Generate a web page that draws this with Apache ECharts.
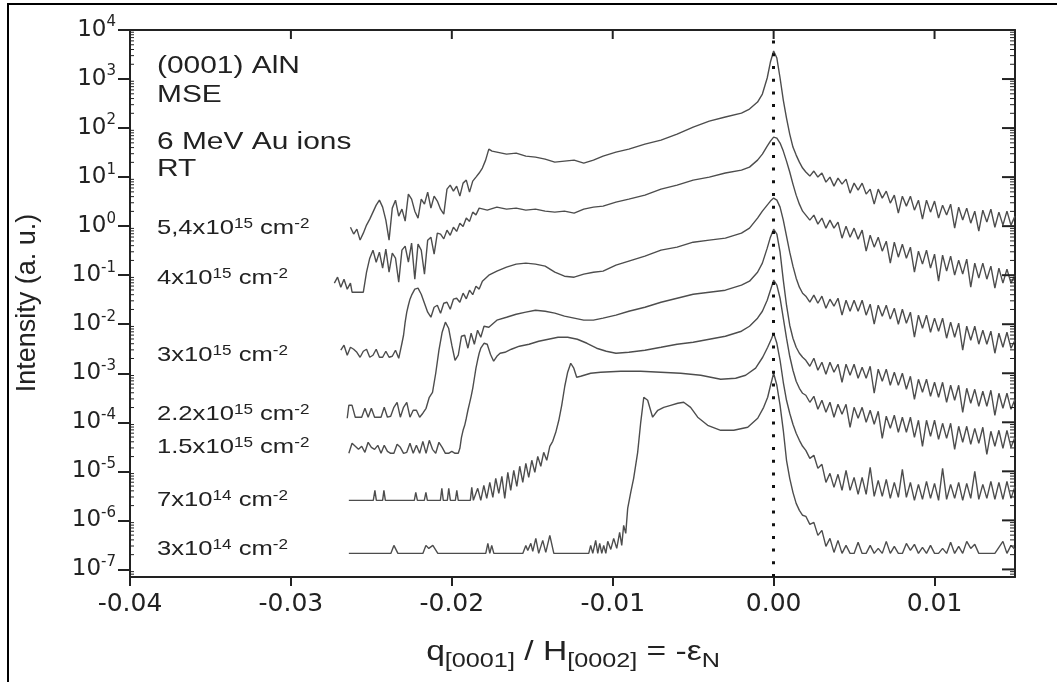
<!DOCTYPE html>
<html>
<head>
<meta charset="utf-8">
<title>(0001) AlN MSE profiles</title>
<script src="https://cdn.jsdelivr.net/npm/echarts@6.0.0/dist/echarts.min.js"></script>
<style>
  html, body { margin: 0; padding: 0; background: #fff; }
  #chart { width: 1057px; height: 682px; }
</style>
</head>
<body>
<div id="chart"></div>
<script>
// shared x positions of the noisy tails right of the (0002) peak
var tailX = [0.002, 0.00225, 0.0025, 0.00275, 0.003, 0.00325, 0.0035, 0.00375, 0.004, 0.00425,
  0.0045, 0.00475, 0.005, 0.00525, 0.0055, 0.00575, 0.006, 0.00625, 0.0065, 0.00675,
  0.007, 0.00725, 0.0075, 0.00775, 0.008, 0.00825, 0.0085, 0.00875, 0.009, 0.00925,
  0.0095, 0.00975, 0.01, 0.01025, 0.0105, 0.01075, 0.011, 0.01125, 0.0115, 0.01175,
  0.012, 0.01225, 0.0125, 0.01275, 0.013, 0.01325, 0.0135, 0.01375, 0.014, 0.01425,
  0.0145, 0.01475, 0.015];

// 5,4e15 cm-2
var d54Body = [[-0.0263, 0.95], [-0.0261, 0.69], [-0.0259, 0.87], [-0.0257, 0.52], [-0.0255, 0.72],
  [-0.0253, 1.05], [-0.0251, 1.39], [-0.0249, 1.93], [-0.0247, 2.68], [-0.0245, 3.39], [-0.0243, 2.44],
  [-0.0241, 1.33], [-0.0239, 0.52], [-0.0237, 2.33], [-0.0235, 3.39], [-0.0233, 1.6], [-0.0231, 2.22],
  [-0.0229, 1.27], [-0.0227, 4.5], [-0.0225, 3.56], [-0.0223, 2.02], [-0.0221, 1.46], [-0.0219, 3.56],
  [-0.0217, 2.81], [-0.0215, 4.94], [-0.0213, 2.33], [-0.0211, 4.09], [-0.0209, 3.24], [-0.0207, 2.22],
  [-0.0205, 1.76], [-0.0203, 5.69], [-0.0201, 6.87], [-0.0199, 5.18], [-0.0197, 6.55], [-0.0195, 4.09],
  [-0.0193, 7.54], [-0.0191, 8.69], [-0.0189, 4.94], [-0.0187, 8.29], [-0.0185, 10], [-0.0183, 12.1],
  [-0.0181, 15.3], [-0.0179, 22.2], [-0.0177, 37.3], [-0.0175, 33.9], [-0.0172, 32.4], [-0.0166, 29.5],
  [-0.016, 30.9], [-0.0154, 26.8], [-0.0148, 25.6], [-0.0142, 23.3], [-0.0136, 20.2], [-0.013, 21.2],
  [-0.0124, 22.2], [-0.0118, 19.3], [-0.0112, 22.2], [-0.0106, 26.8], [-0.0098, 32.4], [-0.009, 37.3],
  [-0.008, 47.1], [-0.007, 56.9], [-0.006, 75.4], [-0.005, 105], [-0.004, 139], [-0.003, 168],
  [-0.002, 202], [-0.0015, 244], [-0.001, 339], [-0.0007, 494], [-0.0004, 1050], [-0.0002, 2220],
  [0, 3730], [0.0002, 2680], [0.0004, 1050], [0.0006, 373], [0.0008, 160], [0.001, 75.4],
  [0.0012, 40.9], [0.0014, 28.1], [0.0016, 20.2], [0.0018, 15.3]];
var d54Tail = [12.7, 10.5, 13.3, 10, 12.1, 7.91, 10, 6.55, 9.54, 7.2, 9.1, 4.71, 7.54, 5.43, 7.54, 4.5,
  5.69, 2.81, 5.69, 3.73, 5.18, 2.95, 4.29, 1.84, 4.09, 2.56, 4.09, 2.12, 3.39, 1.39, 3.39, 1.93, 3.24,
  1.46, 2.68, 1.68, 2.81, 0.91, 2.44, 1.33, 2.33, 1.15, 2.02, 0.79, 2.12, 1.21, 2.22, 0.95, 1.93, 1.05,
  2.02, 1.05, 1.6];

// 4e15 cm-2
var d40Body = [[-0.0273, 0.0687], [-0.0271, 0.091], [-0.0269, 0.0569], [-0.0267, 0.0829], [-0.0265, 0.0518],
  [-0.0263, 0.0687], [-0.0262, 0.045], [-0.0255, 0.045], [-0.0253, 0.115], [-0.0251, 0.222],
  [-0.0249, 0.324], [-0.0247, 0.184], [-0.0245, 0.295], [-0.0243, 0.139], [-0.0241, 0.339],
  [-0.0239, 0.115], [-0.0237, 0.281], [-0.0235, 0.222], [-0.0233, 0.072], [-0.0231, 0.324],
  [-0.0229, 0.391], [-0.0227, 0.184], [-0.0225, 0.45], [-0.0223, 0.0829], [-0.0221, 0.429],
  [-0.0219, 0.324], [-0.0217, 0.105], [-0.0215, 0.518], [-0.0213, 0.596], [-0.0211, 0.268],
  [-0.0209, 0.72], [-0.0207, 0.687], [-0.0205, 0.55], [-0.0203, 0.829], [-0.0201, 0.65],
  [-0.0199, 0.954], [-0.0197, 0.78], [-0.0195, 1.15], [-0.0193, 0.98], [-0.0191, 1.46],
  [-0.0189, 1.25], [-0.0187, 1.93], [-0.0185, 1.7], [-0.0183, 2.33], [-0.0178, 2.12], [-0.0172, 2.44],
  [-0.0166, 2.22], [-0.016, 2.33], [-0.0154, 2.12], [-0.0148, 2.22], [-0.0142, 2.02], [-0.0136, 1.93],
  [-0.013, 2.02], [-0.0124, 1.84], [-0.0118, 2.22], [-0.0112, 2.44], [-0.0106, 2.56], [-0.0098, 3.09],
  [-0.009, 3.56], [-0.008, 4.29], [-0.007, 5.69], [-0.006, 6.87], [-0.005, 8.69], [-0.004, 10],
  [-0.003, 12.1], [-0.002, 13.9], [-0.0015, 16], [-0.001, 22.2], [-0.0007, 29.5], [-0.0004, 42.9],
  [-0.0002, 54.3], [0, 65.5], [0.0002, 62.5], [0.0004, 49.4], [0.0006, 33.9], [0.0008, 21.2],
  [0.001, 12.7], [0.0012, 7.2], [0.0014, 4.29], [0.0016, 2.81], [0.0018, 2.02]];
var d40Tail = [1.68, 1.33, 1.68, 1.1, 1.46, 0.91, 1.33, 0.91, 1.21, 0.569, 1.0, 0.596, 0.91, 0.543, 0.829,
  0.309, 0.655, 0.373, 0.596, 0.309, 0.494, 0.176, 0.471, 0.233, 0.429, 0.222, 0.373, 0.115, 0.309,
  0.168, 0.324, 0.139, 0.268, 0.0754, 0.256, 0.121, 0.244, 0.1, 0.202, 0.105, 0.212, 0.0569, 0.176,
  0.0869, 0.176, 0.0829, 0.153, 0.0543, 0.139, 0.0687, 0.133, 0.0687, 0.1];

// 3e15 cm-2
var d30Body = [[-0.0269, 0.00295], [-0.0267, 0.00373], [-0.0265, 0.00233], [-0.0263, 0.00339],
  [-0.0261, 0.00309], [-0.0259, 0.00268], [-0.0257, 0.00212], [-0.0255, 0.00281], [-0.0253, 0.00309],
  [-0.0251, 0.00212], [-0.0249, 0.00233], [-0.0247, 0.00309], [-0.0245, 0.00212], [-0.0243, 0.00212],
  [-0.0241, 0.00281], [-0.0239, 0.00212], [-0.0237, 0.00222], [-0.0235, 0.00295], [-0.0233, 0.00202],
  [-0.0231, 0.00409], [-0.023, 0.00596], [-0.0229, 0.011], [-0.0228, 0.0176], [-0.0227, 0.0244],
  [-0.0226, 0.0324], [-0.0225, 0.0391], [-0.0223, 0.0518], [-0.0221, 0.0543], [-0.0219, 0.0409],
  [-0.0217, 0.0268], [-0.0215, 0.0176], [-0.0213, 0.0139], [-0.0211, 0.0222], [-0.0209, 0.0244],
  [-0.0207, 0.0168], [-0.0205, 0.0268], [-0.0203, 0.0281], [-0.0201, 0.0202], [-0.0199, 0.0324],
  [-0.0197, 0.0339], [-0.0195, 0.028], [-0.0193, 0.0429], [-0.0191, 0.033], [-0.0189, 0.0494],
  [-0.0187, 0.04], [-0.0185, 0.0596], [-0.0183, 0.052], [-0.0181, 0.0754], [-0.0177, 0.1],
  [-0.0172, 0.121], [-0.0166, 0.146], [-0.016, 0.168], [-0.0154, 0.176], [-0.0148, 0.168],
  [-0.0142, 0.153], [-0.0136, 0.115], [-0.013, 0.0954], [-0.0124, 0.091], [-0.0118, 0.105],
  [-0.0112, 0.115], [-0.0106, 0.121], [-0.0098, 0.16], [-0.009, 0.193], [-0.008, 0.244],
  [-0.007, 0.324], [-0.006, 0.373], [-0.005, 0.471], [-0.004, 0.518], [-0.003, 0.569], [-0.002, 0.72],
  [-0.0015, 0.91], [-0.001, 1.46], [-0.0007, 2.02], [-0.0004, 2.68], [-0.0002, 3.24], [0, 3.73],
  [0.0002, 3.39], [0.0004, 2.44], [0.0006, 1.33], [0.0008, 0.625], [0.001, 0.295], [0.0012, 0.153],
  [0.0014, 0.0869], [0.0016, 0.0569], [0.0018, 0.0429]];
var d30Tail = [0.0373, 0.0281, 0.0391, 0.0268, 0.0373, 0.0212, 0.0324, 0.0233, 0.0339, 0.0153, 0.0309,
  0.0184, 0.0309, 0.0184, 0.0309, 0.0153, 0.0256, 0.01, 0.0244, 0.0146, 0.0244, 0.0127, 0.0212, 0.01,
  0.0202, 0.0105, 0.0176, 0.00543, 0.0153, 0.00829, 0.0153, 0.00687, 0.0133, 0.0072, 0.0133, 0.00518,
  0.011, 0.00543, 0.0105, 0.00295, 0.0091, 0.00471, 0.0091, 0.00391, 0.00754, 0.00391, 0.0072,
  0.00256, 0.00655, 0.00339, 0.00687, 0.00324, 0.00471];

// 2.2e15 cm-2
var d22Body = [[-0.0265, 1.21e-4], [-0.0264, 2.22e-4], [-0.0262, 2.22e-4], [-0.026, 1.27e-4],
  [-0.0258, 1.27e-4], [-0.0256, 1.27e-4], [-0.0254, 1.93e-4], [-0.0252, 1.27e-4], [-0.025, 1.93e-4],
  [-0.0248, 1.27e-4], [-0.0246, 1.27e-4], [-0.0244, 1.27e-4], [-0.0242, 2.02e-4], [-0.024, 1.27e-4],
  [-0.0238, 1.33e-4], [-0.0236, 2.02e-4], [-0.0234, 2.56e-4], [-0.0232, 1.27e-4], [-0.023, 2.02e-4],
  [-0.0228, 2.56e-4], [-0.0226, 1.27e-4], [-0.0224, 1.76e-4], [-0.0222, 1.76e-4], [-0.022, 1.27e-4],
  [-0.0218, 1.53e-4], [-0.0216, 1.93e-4], [-0.0214, 3.24e-4], [-0.0212, 4.09e-4], [-0.021, 1e-3],
  [-0.0208, 2.95e-3], [-0.0206, 6.87e-3], [-0.0204, 1.1e-2], [-0.0202, 8.29e-3], [-0.02, 3.73e-3],
  [-0.0198, 1.84e-3], [-0.0196, 2.33e-3], [-0.0194, 5.69e-3], [-0.0192, 5.96e-3], [-0.019, 3.24e-3],
  [-0.0188, 6.55e-3], [-0.0186, 3.91e-3], [-0.0184, 7.54e-3], [-0.0182, 5.43e-3], [-0.018, 9.1e-3],
  [-0.0177, 8.69e-3], [-0.0172, 1.21e-2], [-0.0166, 1.39e-2], [-0.016, 1.6e-2], [-0.0154, 1.76e-2],
  [-0.0148, 1.93e-2], [-0.0142, 1.84e-2], [-0.0136, 1.68e-2], [-0.013, 1.46e-2], [-0.0124, 1.33e-2],
  [-0.0118, 1.21e-2], [-0.0112, 1.21e-2], [-0.0106, 1.33e-2], [-0.0098, 1.53e-2], [-0.009, 1.84e-2],
  [-0.008, 2.22e-2], [-0.007, 2.81e-2], [-0.006, 3.39e-2], [-0.005, 4.09e-2], [-0.004, 4.5e-2],
  [-0.003, 4.94e-2], [-0.002, 6.25e-2], [-0.0015, 7.54e-2], [-0.001, 0.115], [-0.0007, 0.176],
  [-0.0004, 0.356], [-0.0002, 0.596], [0, 0.869], [0.0002, 0.687], [0.0004, 0.295], [0.0006, 0.0791],
  [0.0008, 0.0244], [0.001, 0.00954], [0.0012, 0.00518], [0.0014, 0.00339], [0.0016, 0.00256],
  [0.0018, 0.00212]];
var d22Tail = [1.84e-3, 1.39e-3, 2.02e-3, 1.15e-3, 1.68e-3, 9.54e-4, 1.68e-3, 1.05e-3, 1.53e-3, 6.55e-4,
  1.53e-3, 9.1e-4, 1.53e-3, 7.91e-4, 1.33e-3, 7.91e-4, 1.39e-3, 3.91e-4, 1.21e-3, 6.87e-4, 1.21e-3,
  5.69e-4, 1.05e-3, 5.69e-4, 1e-3, 4.71e-4, 8.69e-4, 2.95e-4, 7.54e-4, 4.09e-4, 7.54e-4, 3.39e-4,
  6.55e-4, 3.24e-4, 6.55e-4, 2.56e-4, 5.69e-4, 2.81e-4, 5.69e-4, 1.6e-4, 4.94e-4, 2.44e-4, 4.71e-4,
  2.12e-4, 4.29e-4, 2.12e-4, 4.5e-4, 1.39e-4, 3.91e-4, 1.93e-4, 3.91e-4, 1.84e-4, 2.95e-4];

// 1.5e15 cm-2
var d15Body = [[-0.0264, 2.33e-5], [-0.0262, 3.73e-5], [-0.026, 3.24e-5], [-0.0258, 2.81e-5],
  [-0.0256, 3.24e-5], [-0.0254, 2.44e-5], [-0.0252, 3.91e-5], [-0.025, 3.09e-5], [-0.0248, 2.81e-5],
  [-0.0246, 3.39e-5], [-0.0244, 2.33e-5], [-0.0242, 3.39e-5], [-0.024, 2.56e-5], [-0.0238, 2.33e-5],
  [-0.0236, 2.33e-5], [-0.0234, 3.56e-5], [-0.0232, 3.09e-5], [-0.023, 2.33e-5], [-0.0228, 2.44e-5],
  [-0.0226, 3.73e-5], [-0.0224, 2.33e-5], [-0.0222, 3.39e-5], [-0.022, 2.33e-5], [-0.0218, 4.09e-5],
  [-0.0216, 2.33e-5], [-0.0214, 4.29e-5], [-0.0212, 2.81e-5], [-0.021, 2.33e-5], [-0.0208, 3.91e-5],
  [-0.0206, 3.09e-5], [-0.0204, 2.33e-5], [-0.0202, 2.33e-5], [-0.02, 2.56e-5], [-0.0198, 2.33e-5],
  [-0.0196, 2.33e-5], [-0.0195, 2.95e-5], [-0.0194, 4.94e-5], [-0.0193, 6.87e-5], [-0.0192, 8.69e-5],
  [-0.0191, 1.21e-4], [-0.019, 1.76e-4], [-0.0189, 2.44e-4], [-0.0188, 3.39e-4], [-0.0187, 4.94e-4],
  [-0.0186, 7.91e-4], [-0.0185, 1.27e-3], [-0.0184, 1.84e-3], [-0.0183, 2.56e-3], [-0.0182, 3.24e-3],
  [-0.018, 4.09e-3], [-0.0178, 3.91e-3], [-0.0176, 2.44e-3], [-0.0174, 1.76e-3], [-0.0172, 2.22e-3],
  [-0.017, 2.56e-3], [-0.0167, 2.68e-3], [-0.0163, 3.09e-3], [-0.0158, 3.56e-3], [-0.0152, 3.91e-3],
  [-0.0146, 4.5e-3], [-0.014, 4.94e-3], [-0.0134, 5.43e-3], [-0.0128, 5.43e-3], [-0.0122, 4.94e-3],
  [-0.0116, 4.09e-3], [-0.011, 3.24e-3], [-0.0104, 2.81e-3], [-0.0098, 2.56e-3], [-0.009, 2.68e-3],
  [-0.008, 2.95e-3], [-0.007, 3.39e-3], [-0.006, 3.91e-3], [-0.005, 4.29e-3], [-0.004, 4.94e-3],
  [-0.003, 5.69e-3], [-0.002, 7.2e-3], [-0.0015, 9.1e-3], [-0.001, 1.33e-2], [-0.0007, 1.84e-2],
  [-0.0004, 3.09e-2], [-0.0002, 4.94e-2], [0, 7.91e-2], [0.0002, 6.25e-2], [0.0004, 3.39e-2],
  [0.0006, 1.33e-2], [0.0008, 5.18e-3], [0.001, 2.22e-3], [0.0012, 1.15e-3], [0.0014, 6.87e-4],
  [0.0016, 4.94e-4], [0.0018, 3.91e-4]];
var d15Tail = [3.56e-4, 2.56e-4, 3.39e-4, 1.84e-4, 2.81e-4, 1.6e-4, 2.56e-4, 1.27e-4, 2.33e-4, 1.46e-4,
  2.33e-4, 7.91e-5, 2.02e-4, 1.21e-4, 2.02e-4, 1e-4, 1.76e-4, 9.1e-5, 1.68e-4, 4.71e-5, 1.33e-4,
  7.54e-5, 1.39e-4, 6.25e-5, 1.27e-4, 6.25e-5, 1.27e-4, 4.94e-5, 1.1e-4, 3.24e-5, 1.1e-4, 5.18e-5,
  1.1e-4, 4.5e-5, 9.54e-5, 4.71e-5, 9.54e-5, 2.81e-5, 8.29e-5, 3.91e-5, 8.29e-5, 3.56e-5, 7.54e-5,
  3.73e-5, 7.91e-5, 2.22e-5, 6.55e-5, 3.24e-5, 6.87e-5, 2.95e-5, 6.87e-5, 3.09e-5, 4.94e-5];

// 7e14 cm-2
var d07Body = [[-0.0264, 2.56e-6], [-0.02488, 2.56e-6], [-0.02478, 4.09e-6], [-0.02469, 2.56e-6],
  [-0.0243, 2.56e-6], [-0.02422, 4.09e-6], [-0.02413, 2.56e-6], [-0.02233, 2.56e-6], [-0.02224, 3.73e-6],
  [-0.02214, 2.56e-6], [-0.02171, 2.56e-6], [-0.02161, 3.73e-6], [-0.02152, 2.56e-6], [-0.02071, 2.56e-6],
  [-0.02062, 4.5e-6], [-0.02053, 2.56e-6], [-0.02028, 2.56e-6], [-0.02019, 4.5e-6], [-0.02009, 2.56e-6],
  [-0.01978, 2.56e-6], [-0.01969, 4.09e-6], [-0.0196, 2.56e-6], [-0.01885, 2.56e-6], [-0.01876, 4.71e-6],
  [-0.01866, 2.56e-6], [-0.01857, 2.56e-6], [-0.01839, 4.5e-6], [-0.0182, 2.56e-6], [-0.01801, 5.18e-6],
  [-0.01783, 2.81e-6], [-0.01764, 5.96e-6], [-0.01745, 2.95e-6], [-0.01727, 7.2e-6], [-0.01708, 3.56e-6],
  [-0.01689, 7.91e-6], [-0.01671, 2.81e-6], [-0.01652, 9.54e-6], [-0.01634, 4.09e-6], [-0.01615, 1.05e-5],
  [-0.01596, 4.94e-6], [-0.01578, 1.27e-5], [-0.01559, 5.96e-6], [-0.0154, 1.46e-5], [-0.01522, 7.54e-6],
  [-0.01503, 1.68e-5], [-0.01484, 9.54e-6], [-0.01466, 2.02e-5], [-0.01447, 1.27e-5], [-0.01429, 2.44e-5],
  [-0.0141, 1.68e-5], [-0.01391, 3.24e-5], [-0.01373, 4.09e-5], [-0.01354, 6.25e-5], [-0.01335, 1.1e-4],
  [-0.01317, 2.22e-4], [-0.01298, 5.43e-4], [-0.0128, 1.05e-3], [-0.01261, 1.6e-3], [-0.01242, 1.27e-3],
  [-0.01224, 8.29e-4], [-0.01199, 8.69e-4], [-0.01137, 1e-3], [-0.01075, 1.05e-3], [-0.0095, 1.1e-3],
  [-0.00826, 1.1e-3], [-0.00702, 1.05e-3], [-0.00578, 1e-3], [-0.00453, 9.1e-4], [-0.00329, 7.54e-4],
  [-0.00236, 7.91e-4], [-0.00174, 9.1e-4], [-0.00112, 1.27e-3], [-0.00068, 2.12e-3], [-0.00037, 3.39e-3],
  [-0.00012, 5.18e-3], [0, 6.55e-3], [0.0002, 4.09e-3], [0.0004, 1.84e-3], [0.0006, 6.55e-4],
  [0.0008, 2.81e-4], [0.001, 1.53e-4], [0.0012, 9.1e-5], [0.0014, 5.96e-5], [0.0016, 4.29e-5],
  [0.0018, 3.24e-5]];
var d07Tail = [2.68e-5, 1.84e-5, 2.12e-5, 1.15e-5, 1.39e-5, 5.96e-6, 9.1e-6, 4.71e-6, 8.69e-6, 4.09e-6,
  1.05e-5, 4.09e-6, 7.54e-6, 3.39e-6, 7.54e-6, 3.39e-6, 1.21e-5, 3.09e-6, 6.55e-6, 3.09e-6, 6.87e-6,
  2.81e-6, 5.96e-6, 2.95e-6, 1.1e-5, 2.95e-6, 5.96e-6, 2.56e-6, 5.43e-6, 2.68e-6, 6.25e-6, 2.81e-6,
  5.69e-6, 2.56e-6, 1.15e-5, 2.68e-6, 5.43e-6, 2.81e-6, 5.96e-6, 2.56e-6, 5.69e-6, 2.81e-6, 1e-5,
  2.68e-6, 5.43e-6, 2.81e-6, 6.25e-6, 2.68e-6, 5.96e-6, 2.68e-6, 6.25e-6, 2.81e-6, 4.94e-6];

// 3e14 cm-2
var d03Body = [[-0.0264, 2.12e-7], [-0.02379, 2.12e-7], [-0.0236, 3.09e-7], [-0.02335, 2.12e-7],
  [-0.0218, 2.12e-7], [-0.02161, 3.09e-7], [-0.02143, 2.68e-7], [-0.02118, 3.09e-7], [-0.02087, 2.12e-7],
  [-0.01789, 2.12e-7], [-0.01776, 3.39e-7], [-0.01764, 2.12e-7], [-0.01752, 3.09e-7], [-0.01739, 2.12e-7],
  [-0.01559, 2.12e-7], [-0.0154, 3.09e-7], [-0.01528, 2.44e-7], [-0.01509, 3.39e-7], [-0.01497, 2.33e-7],
  [-0.01478, 4.29e-7], [-0.0146, 2.12e-7], [-0.01435, 3.91e-7], [-0.01416, 2.22e-7], [-0.01391, 4.94e-7],
  [-0.01366, 2.12e-7], [-0.01149, 2.12e-7], [-0.01137, 3.09e-7], [-0.01124, 2.12e-7], [-0.01106, 3.91e-7],
  [-0.01093, 2.12e-7], [-0.01081, 3.39e-7], [-0.01068, 2.12e-7], [-0.01056, 3.09e-7], [-0.01043, 2.12e-7],
  [-0.01031, 3.73e-7], [-0.01012, 2.56e-7], [-0.00994, 4.29e-7], [-0.00975, 2.68e-7], [-0.00957, 5.69e-7],
  [-0.00944, 3.09e-7], [-0.00932, 7.91e-7], [-0.00919, 5.43e-7], [-0.00907, 1.76e-6], [-0.00888, 3.73e-6],
  [-0.0087, 7.2e-6], [-0.00845, 2.44e-5], [-0.00826, 1e-4], [-0.00807, 3.24e-4], [-0.00783, 2.81e-4],
  [-0.00752, 1.27e-4], [-0.0072, 1.76e-4], [-0.00683, 2.02e-4], [-0.0064, 2.22e-4], [-0.00596, 2.44e-4],
  [-0.00559, 2.56e-4], [-0.00516, 2.02e-4], [-0.00472, 1.27e-4], [-0.0041, 8.69e-5], [-0.00329, 6.87e-5],
  [-0.00248, 6.87e-5], [-0.00161, 7.91e-5], [-0.00099, 1.21e-4], [-0.00062, 2.02e-4], [-0.00037, 3.24e-4],
  [-0.00019, 5.69e-4], [0, 1e-3], [0.0002, 5.69e-4], [0.0004, 2.22e-4], [0.0006, 6.87e-5],
  [0.0008, 1.68e-5], [0.001, 7.2e-6], [0.0012, 3.73e-6], [0.0014, 2.22e-6], [0.0016, 1.6e-6],
  [0.0018, 1.27e-6]];
var d03Tail = [1.21e-6, 8.29e-7, 9.1e-7, 4.94e-7, 6.25e-7, 2.95e-7, 4.29e-7, 2.22e-7, 3.91e-7, 2.12e-7,
  3.09e-7, 2.12e-7, 2.12e-7, 3.56e-7, 2.12e-7, 2.12e-7, 3.09e-7, 2.12e-7, 2.68e-7, 2.12e-7, 3.73e-7,
  2.12e-7, 2.95e-7, 2.12e-7, 2.12e-7, 3.39e-7, 2.44e-7, 3.24e-7, 2.12e-7, 2.81e-7, 2.12e-7, 3.09e-7,
  2.12e-7, 2.12e-7, 2.68e-7, 2.12e-7, 3.56e-7, 2.12e-7, 2.95e-7, 2.12e-7, 3.73e-7, 2.68e-7, 3.24e-7,
  2.12e-7, 2.12e-7, 2.12e-7, 2.12e-7, 2.12e-7, 2.81e-7, 3.73e-7, 2.12e-7, 3.09e-7, 2.56e-7];

var xTicks = [-0.04, -0.03, -0.02, -0.01, 0, 0.01];
var yTicks = [1e-7, 1e-6, 1e-5, 1e-4, 1e-3, 1e-2, 1e-1, 1, 10, 100, 1000, 10000];
var doseLabels = ['5,4x10{sup|15} cm{sup|-2}', '4x10{sup|15} cm{sup|-2}', '3x10{sup|15} cm{sup|-2}',
  '2.2x10{sup|15} cm{sup|-2}', '1.5x10{sup|15} cm{sup|-2}', '7x10{sup|14} cm{sup|-2}',
  '3x10{sup|14} cm{sup|-2}'];
var sampleLines = ['(0001) AlN', 'MSE', '6 MeV Au ions', 'RT'];

var INK = '#222';
var CURVE = '#4d4d4d';
var LBL_FONT = 'DejaVu Sans';
var TXT_FONT = '"Liberation Sans", Arial, sans-serif';
var X_MIN = -0.04, X_MAX = 0.015, Y_MIN = 7e-8, Y_MAX = 1e4;
var GRID = { left: 130, right: 42, top: 30, bottom: 105 };

function joinCurve(body, tail) {
  var pts = body.slice();
  for (var i = 0; i < tailX.length; i++) {
    pts.push([tailX[i], tail[i]]);
  }
  return pts;
}

// log minor ticks (2..9 in every decade)
var yMinor = [];
for (var k = -8; k <= 3; k++) {
  for (var m = 2; m <= 9; m++) {
    var v = m * Math.pow(10, k);
    if (v > Y_MIN && v < Y_MAX) yMinor.push(v);
  }
}

var curves = [
  joinCurve(d54Body, d54Tail),
  joinCurve(d40Body, d40Tail),
  joinCurve(d30Body, d30Tail),
  joinCurve(d22Body, d22Tail),
  joinCurve(d15Body, d15Tail),
  joinCurve(d07Body, d07Tail),
  joinCurve(d03Body, d03Tail)
];

var series = curves.map(function (d, i) {
  var s = {
    type: 'line',
    data: d,
    showSymbol: false,
    symbol: 'none',
    silent: true,
    lineStyle: { color: CURVE, width: 1.4 },
    emphasis: { disabled: true },
    z: 3
  };
  if (i === 0) {
    s.markLine = {
      silent: true,
      symbol: ['none', 'none'],
      label: { show: false },
      lineStyle: { color: '#111', width: 3, type: [3, 9.7], opacity: 1 },
      data: [{ xAxis: 0 }]
    };
  }
  return s;
});

// inward frame ticks, drawn by custom series through the grid scales
// dx/dy: direction and length of the tick from its anchor point on the frame
function frameTickSeries(points, dx, dy, width) {
  return {
    type: 'custom',
    silent: true,
    clip: false,
    z: 20,
    data: points,
    renderItem: function (params, api) {
      var p = api.coord([api.value(0), api.value(1)]);
      return {
        type: 'line',
        shape: { x1: p[0], y1: p[1], x2: p[0] + dx, y2: p[1] + dy },
        style: { stroke: INK, lineWidth: width }
      };
    }
  };
}
series.push(frameTickSeries(yTicks.map(function (t) { return [X_MAX, t]; }), -13, 0, 2));
series.push(frameTickSeries(yMinor.map(function (t) { return [X_MAX, t]; }), -5, 0, 1));
series.push(frameTickSeries(yMinor.map(function (t) { return [X_MIN, t]; }), 4, 0, 1));
series.push(frameTickSeries(xTicks.map(function (t) { return [t, Y_MAX]; }), 0, 9, 2));

var graphics = [
  {
    type: 'rect',
    shape: { x: 8, y: 4, width: 1200, height: 800 },
    style: { fill: 'none', stroke: '#000', lineWidth: 2 },
    silent: true
  },
  {
    type: 'text',
    x: 28, y: 303,
    rotation: Math.PI / 2,
    style: { text: 'Intensity (a. u.)', fontSize: 27, fontFamily: TXT_FONT, fill: INK,
      align: 'center', verticalAlign: 'middle' }
  },
  {
    type: 'text',
    x: 573, y: 652,
    scaleX: 1.2,
    style: {
      text: '{m|q}{s|[0001]}{m| / H}{s|[0002]}{m| = -ε}{s|N}',
      align: 'center', verticalAlign: 'middle', fill: INK,
      rich: {
        m: { fontSize: 28, fontFamily: TXT_FONT, fill: INK, lineHeight: 40 },
        s: { fontSize: 21, fontFamily: TXT_FONT, fill: INK, lineHeight: 22, verticalAlign: 'bottom' }
      }
    }
  }
];

var sampleY = [67, 96, 143, 170];
sampleLines.forEach(function (t, i) {
  graphics.push({
    type: 'text', x: 157, y: sampleY[i], scaleX: 1.3,
    style: { text: t, fontSize: 23, fontFamily: TXT_FONT, fill: INK, align: 'left', verticalAlign: 'middle' }
  });
});

var doseY = [228, 278, 355, 414, 447, 500, 549];
doseLabels.forEach(function (t, i) {
  graphics.push({
    type: 'text', x: 157, y: doseY[i], scaleX: 1.22,
    style: {
      text: t, align: 'left', verticalAlign: 'middle', fill: INK,
      fontSize: 21, fontFamily: TXT_FONT,
      rich: {
        sup: { fontSize: 14, fontFamily: TXT_FONT, fill: INK, verticalAlign: 'top' }
      }
    }
  });
});

var option = {
  animation: false,
  backgroundColor: '#fff',
  grid: { left: GRID.left, right: GRID.right, top: GRID.top, bottom: GRID.bottom,
    containLabel: false, outerBoundsMode: 'none' },
  xAxis: [
    {
      type: 'value', position: 'bottom', min: X_MIN, max: X_MAX,
      splitLine: { show: false },
      axisLine: { onZero: false, lineStyle: { color: INK, width: 2 } },
      axisTick: { show: true, customValues: xTicks, inside: false, length: 9, lineStyle: { color: INK, width: 2 } },
      axisLabel: {
        customValues: xTicks, margin: 15, color: INK, fontSize: 25, fontFamily: LBL_FONT,
        formatter: function (v) { return v.toFixed(2); }
      }
    },
    {
      type: 'value', position: 'top', min: X_MIN, max: X_MAX,
      splitLine: { show: false },
      axisLine: { onZero: false, lineStyle: { color: INK, width: 2 } },
      axisTick: { show: false },
      axisLabel: { show: false }
    }
  ],
  yAxis: [
    {
      type: 'log', position: 'left', min: Y_MIN, max: Y_MAX,
      splitLine: { show: false },
      minorTick: { show: false },
      axisLine: { onZero: false, lineStyle: { color: INK, width: 2 } },
      axisTick: { show: true, customValues: yTicks, inside: false, length: 12, lineStyle: { color: INK, width: 2 } },
      axisLabel: {
        customValues: yTicks,
        margin: 14,
        color: INK,
        formatter: function (v) {
          var e = Math.round(Math.log(v) / Math.LN10);
          return '{b|10}{s|' + e + '}';
        },
        rich: {
          b: { fontSize: 23, fontFamily: LBL_FONT, color: INK, lineHeight: 30 },
          s: { fontSize: 15, fontFamily: LBL_FONT, color: INK, verticalAlign: 'top' }
        }
      }
    },
    {
      type: 'log', position: 'right', min: Y_MIN, max: Y_MAX,
      splitLine: { show: false },
      minorTick: { show: false },
      axisLine: { onZero: false, lineStyle: { color: INK, width: 2 } },
      axisTick: { show: false },
      axisLabel: { show: false }
    }
  ],
  graphic: { elements: graphics },
  series: series
};

var chart = echarts.init(document.getElementById('chart'), null, { renderer: 'canvas' });
chart.setOption(option);
</script>
</body>
</html>
